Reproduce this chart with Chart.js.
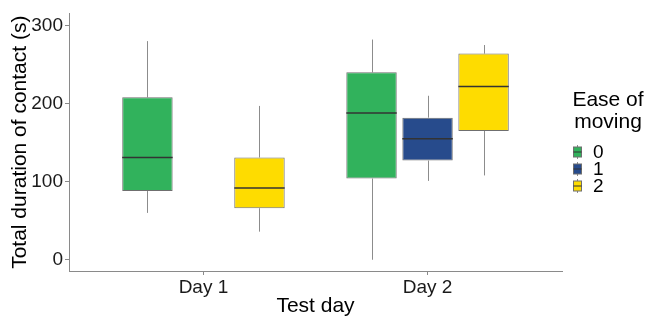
<!DOCTYPE html>
<html>
<head>
<meta charset="utf-8">
<title>Total duration of contact</title>
<script src="https://cdn.jsdelivr.net/npm/chart.js@4.4.1/dist/chart.umd.min.js"></script>
<style>
  html, body { margin: 0; padding: 0; background: #fff; }
  #wrap { width: 648px; height: 320px; }
</style>
</head>
<body>
<div id="wrap"><canvas id="chart" width="648" height="320"></canvas></div>
<script>
'use strict';

// Test days on the x axis
const days = ['Day 1', 'Day 2'];

// Ease of moving groups (legend)
const ease = ['0', '1', '2'];
const legendTitle = ['Ease of', 'moving'];

// Box statistics, one row per ease group, one column per day (null = no box)
const whiskerLow  = [[60, 0],   [null, 101], [36, 108]];
const lowerQ      = [[88, 104], [null, 127], [66, 165]];
const medians     = [[131, 188], [null, 155], [92, 222]];
const upperQ      = [[208, 240], [null, 182], [131, 264]];
const whiskerHigh = [[280, 282], [null, 210], [197, 275]];

// Y axis ticks
const yTicks = [0, 100, 200, 300];

const
	fills = ['#31b25c', '#274b8c', '#fedc00'],
	boxLine = '#6f6f6f',
	whiskerColor = '#8c8c8c',
	medianColor = '#333333',
	axisColor = '#8a8a8a',
	fontFamily = '"Liberation Sans", Arial, sans-serif';

const datasets = ease.map((label, g) => ({
	label,
	data: days.map((d, i) => lowerQ[g][i] == null ? null : [lowerQ[g][i], upperQ[g][i]]),
	backgroundColor: fills[g],
	borderColor: boxLine,
	borderWidth: 1,
	borderSkipped: false,
	categoryPercentage: 0.75,
	barPercentage: 0.9
}));

/**
 * Draws whiskers, medians and the ggplot-like legend
 */
const boxPlot = {
	id: 'boxPlot',

	beforeDatasetsDraw(chart) {
		const
			{ctx} = chart,
			y = chart.scales.y;

		ctx.save();
		ctx.strokeStyle = whiskerColor;
		ctx.lineWidth = 1;

		chart.data.datasets.forEach((ds, g) => {
			chart.getDatasetMeta(g).data.forEach((el, i) => {
				if (whiskerLow[g][i] == null) {
					return;
				}

				const x = Math.round(el.x) + 0.5;
				ctx.beginPath();
				ctx.moveTo(x, y.getPixelForValue(whiskerHigh[g][i]));
				ctx.lineTo(x, y.getPixelForValue(upperQ[g][i]));
				ctx.moveTo(x, y.getPixelForValue(lowerQ[g][i]));
				ctx.lineTo(x, y.getPixelForValue(whiskerLow[g][i]));
				ctx.stroke();
			});
		});

		ctx.restore();
	},

	afterDatasetsDraw(chart) {
		const
			{ctx} = chart,
			y = chart.scales.y;

		ctx.save();
		ctx.strokeStyle = medianColor;
		ctx.lineWidth = 1.5;

		chart.data.datasets.forEach((ds, g) => {
			chart.getDatasetMeta(g).data.forEach((el, i) => {
				if (medians[g][i] == null) {
					return;
				}

				const py = y.getPixelForValue(medians[g][i]);
				ctx.beginPath();
				ctx.moveTo(el.x - el.width / 2, py);
				ctx.lineTo(el.x + el.width / 2, py);
				ctx.stroke();
			});
		});

		ctx.restore();
	},

	afterDraw(chart) {
		const
			{ctx, chartArea} = chart,
			left = chartArea.right + 11,
			titleX = chartArea.right + 46;

		ctx.save();
		ctx.fillStyle = '#000';
		ctx.textAlign = 'center';
		ctx.textBaseline = 'middle';
		ctx.font = `21px ${fontFamily}`;
		legendTitle.forEach((line, k) => ctx.fillText(line, titleX, 100 + k * 22));

		ctx.font = `19px ${fontFamily}`;
		ctx.textAlign = 'left';

		chart.data.datasets.forEach((ds, g) => {
			const
				cy = 152 + g * 17,
				kx = left + 4.5;

			ctx.strokeStyle = whiskerColor;
			ctx.lineWidth = 1;
			ctx.beginPath();
			ctx.moveTo(kx, cy - 7);
			ctx.lineTo(kx, cy + 7);
			ctx.stroke();

			ctx.fillStyle = ds.backgroundColor;
			ctx.fillRect(left + 0.5, cy - 5, 8, 10);
			ctx.strokeStyle = boxLine;
			ctx.strokeRect(left + 0.5, cy - 5, 8, 10);

			ctx.strokeStyle = medianColor;
			ctx.beginPath();
			ctx.moveTo(left + 0.5, cy);
			ctx.lineTo(left + 8.5, cy);
			ctx.stroke();

			ctx.fillStyle = '#000';
			ctx.fillText(ds.label, left + 20, cy + 1);
		});

		ctx.restore();
	}
};

new Chart(document.getElementById('chart'), {
	type: 'bar',
	data: {labels: days, datasets},
	plugins: [boxPlot],
	options: {
		responsive: false,
		animation: false,
		layout: {padding: {top: 13, right: 86, left: 0, bottom: 0}},
		plugins: {
			legend: {display: false},
			tooltip: {enabled: false}
		},
		scales: {
			x: {
				type: 'category',
				offset: true,
				afterBuildTicks(s) {
					// ggplot leaves 0.6 of a category on each side
					s._startValue = s.min - 0.6;
					s._valueRange = s.max - s.min + 1.2;
				},
				afterFit(s) {
					s.height = 49;
				},
				grid: {
					offset: false,
					drawOnChartArea: false,
					drawTicks: true,
					tickLength: 4,
					color: axisColor
				},
				border: {color: axisColor, width: 1},
				ticks: {
					color: '#1a1a1a',
					padding: 1,
					font: {family: fontFamily, size: 19}
				},
				title: {
					display: true,
					text: 'Test day',
					color: '#000',
					padding: {top: 0, bottom: 1},
					font: {family: fontFamily, size: 21}
				}
			},
			y: {
				min: -14.4,
				max: 315.5,
				afterFit(s) {
					s.width = 69;
				},
				afterBuildTicks(s) {
					s.ticks = yTicks.map((value) => ({value}));
				},
				grid: {
					drawOnChartArea: false,
					drawTicks: true,
					tickLength: 4,
					color: axisColor
				},
				border: {color: axisColor, width: 1},
				ticks: {
					color: '#1a1a1a',
					padding: 2,
					font: {family: fontFamily, size: 19}
				},
				title: {
					display: true,
					text: 'Total duration of contact (s)',
					color: '#000',
					padding: {top: 8, bottom: 0},
					font: {family: fontFamily, size: 21}
				}
			}
		}
	}
});
</script>
</body>
</html>
